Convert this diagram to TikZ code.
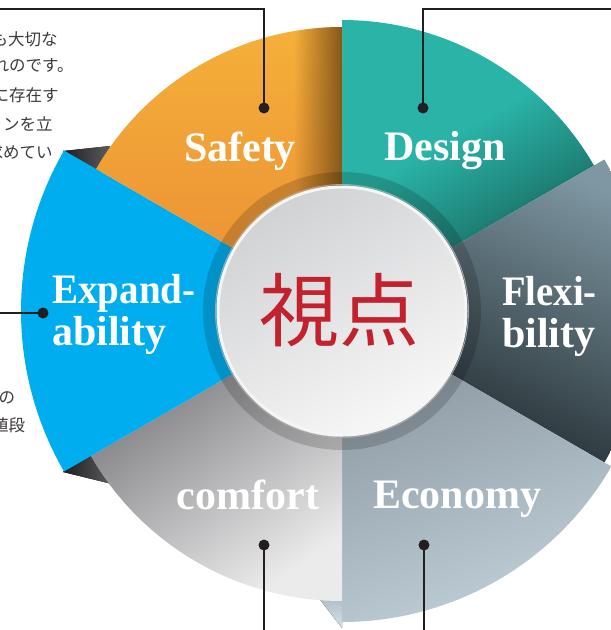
\documentclass[tikz,border=0pt]{standalone}
\usepackage{fontspec}
\usepackage{graphicx}
\setmainfont{Liberation Serif}
\newfontfamily\jpfont{Noto Sans CJK JP}
\usetikzlibrary{fadings}

\definecolor{ink}{HTML}{231F20}
\definecolor{bodytext}{HTML}{3E3A39}
\definecolor{kanji}{HTML}{C1222E}
\definecolor{cyanseg}{HTML}{00ADEE}
\definecolor{orangeTop}{HTML}{F5B039}
\definecolor{orangeBot}{HTML}{EA8D35}
\definecolor{orangeEdge}{HTML}{86571A}
\definecolor{tealTop}{HTML}{2AB3A7}
\definecolor{tealMid}{HTML}{1F8278}
\definecolor{tealBot}{HTML}{0C3733}
\definecolor{flexTop}{HTML}{7E97A2}
\definecolor{flexMid}{HTML}{4C5C64}
\definecolor{flexBot}{HTML}{1C2529}
\definecolor{econTop}{HTML}{87929D}
\definecolor{econBot}{HTML}{BFCFD7}
\definecolor{comfTop}{HTML}{6E6E71}
\definecolor{comfMid}{HTML}{C3C3C7}
\definecolor{comfBot}{HTML}{EBEBEC}
\definecolor{diskTop}{HTML}{D1D2D4}
\definecolor{diskBot}{HTML}{F7F7F7}
\definecolor{facetDark}{HTML}{1E1E20}
\definecolor{facetLight}{HTML}{5C5C5F}
\definecolor{econFaceTop}{HTML}{AEBEC6}
\definecolor{econFaceBot}{HTML}{D6E1E6}

% teal piece: flat colour over the upper part, darkening towards the lower edge
\pgfdeclareverticalshading{tealshade}{100bp}{color(0bp)=(tealBot); color(25bp)=(tealBot);
  color(40bp)=(tealMid); color(56bp)=(tealTop); color(100bp)=(tealTop)}

\begin{document}
\begin{tikzpicture}[x=1pt,y=-1pt,
  lbl/.style={text=white, font=\bfseries\fontsize{42}{42}\selectfont, inner sep=0pt},
  note/.style={text=bodytext, font=\jpfont\fontsize{16.5}{16.5}\selectfont, inner sep=0pt, anchor=west},
  dot/.style={circle, fill=ink, minimum size=11pt, inner sep=0pt},
  lead/.style={draw=ink, line width=2pt},
  facet/.style={left color=facetDark, right color=facetLight}]

\useasboundingbox (0,0) rectangle (611,630);
\clip (0,0) rectangle (611,630);

\coordinate (C) at (342,311);

% side faces of the raised pieces
\fill[facet] (63,151) -- (110,146) -- (100,176) -- cycle;
\fill[facet] (63,472) -- (88,452) -- (112,484) -- cycle;
\fill[top color=econFaceTop, bottom color=econFaceBot] (318,597) -- (342,597) -- (342,628) -- cycle;

% six segments
\path[shading=tealshade, shading angle=30]
  (C) -- ++(-90:291) arc[start angle=-90, end angle=-30, radius=291] -- cycle;
\path[top color=flexTop, middle color=flexMid, bottom color=flexBot, shading angle=-25]
  (C) -- ++(-30:303) arc[start angle=-30, end angle=30, radius=303] -- cycle;
\path[top color=econTop, bottom color=econBot, shading angle=20]
  (C) -- ++(30:311) arc[start angle=30, end angle=90, radius=311] -- cycle;
\path[top color=comfTop, middle color=comfMid, bottom color=comfBot, shading angle=35]
  (C) -- ++(90:290) arc[start angle=90, end angle=150, radius=290] -- cycle;
\fill[cyanseg]
  (C) -- ++(150:321) arc[start angle=150, end angle=210, radius=321] -- cycle;
\path[top color=orangeTop, bottom color=orangeBot]
  (C) -- ++(210:284) arc[start angle=210, end angle=270, radius=284] -- cycle;

% darker edge of the orange piece next to the teal one
\begin{scope}
  \clip (C) -- ++(210:284) arc[start angle=210, end angle=270, radius=284] -- cycle;
  \fill[orangeEdge, path fading=west] (294,0) rectangle (342,320);
\end{scope}

% shaded ring and central disk
\fill[black, opacity=.16, even odd rule] (C) circle[radius=139] (C) circle[radius=127];
\draw[black!35, line width=.8pt] (C) circle[radius=126.5];
\node[circle, minimum size=248pt, inner sep=0pt, draw=white!96!black, line width=3pt,
      top color=diskTop, bottom color=diskBot, shading angle=30] (disk) at (C) {};
\node[text=kanji, font=\jpfont\fontsize{80}{80}\selectfont, inner sep=0pt] (title) at (339,310) {視点};

% labels
\node[lbl, anchor=base] (safety) at (240,161) {Safety};
\node[lbl, anchor=base] (design) at (445,160) {Design};
\node[lbl, anchor=base west] (expA) at (52,303) {\scalebox{0.93}[1]{Expand-}};
\node[lbl, anchor=base west] (expB) at (52,345) {ability};
\node[lbl, anchor=base west] (flexA) at (502,305) {\scalebox{0.92}[1]{Flexi-}};
\node[lbl, anchor=base west] (flexB) at (502,347) {bility};
\node[lbl, anchor=base] (comfort) at (248,509) {comfort};
\node[lbl, anchor=base] (economy) at (457,508) {Economy};

% leader lines
\node[dot] (dSafety) at (264,108) {};
\node[dot] (dDesign) at (423,108) {};
\node[dot] (dExpand) at (43,313) {};
\node[dot] (dComfort) at (264,545) {};
\node[dot] (dEconomy) at (424,545) {};
\coordinate (eSafety) at (-5,9);
\coordinate (eDesign) at (616,9);
\coordinate (eExpand) at (-5,313);
\coordinate (eComfort) at (264,635);
\coordinate (eEconomy) at (424,635);
\draw[lead] (dSafety.center) |- (eSafety);
\draw[lead] (dDesign.center) |- (eDesign);
\draw[lead] (dExpand.center) -- (eExpand);
\draw[lead] (dComfort.center) -- (eComfort);
\draw[lead] (dEconomy.center) -- (eEconomy);

% running text at the left margin
\node[note] (t1) at (-8.5,39) {も大切な};
\node[note] (t2) at (-7.5,65) {れのです。};
\node[note] (t3) at (-7.5,95) {に存在す};
\node[note] (t4) at (-13.5,124) {ョンを立};
\node[note] (t5) at (-13.5,152) {求めてい};
\node[note] (t6) at (-18,398) {での};
\node[note] (t7) at (-8,425) {値段};
\end{tikzpicture}
\end{document}
